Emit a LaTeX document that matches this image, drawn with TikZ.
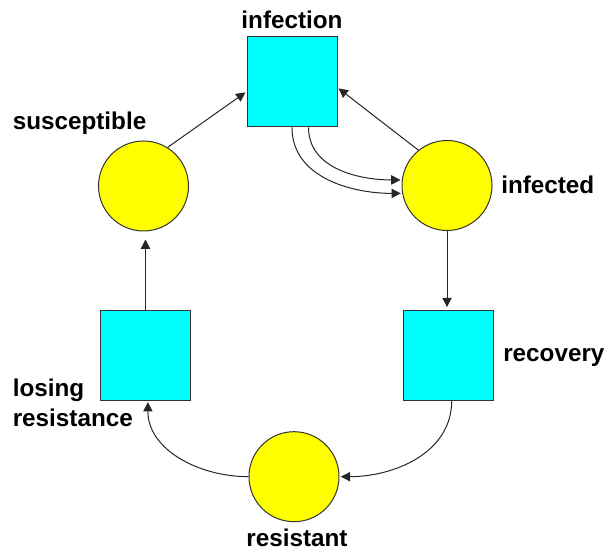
\documentclass[tikz,border=0pt]{standalone}
\usepackage{fontspec}
\setmainfont{Liberation Sans}
\usetikzlibrary{arrows.meta}
\definecolor{rateblue}{RGB}{0,255,255}
\definecolor{stockyellow}{RGB}{255,255,0}
\begin{document}
\begin{tikzpicture}[x=0.75pt,y=0.75pt,
  stock/.style={circle, draw=black!80, fill=stockyellow, line width=0.75pt, minimum size=67.5pt, inner sep=0pt},
  rate/.style={rectangle, draw=black!80, fill=rateblue, line width=0.75pt, minimum size=67.5pt, inner sep=0pt},
  lbl/.style={inner sep=0pt, font=\fontsize{18.2}{22.5}\selectfont\bfseries},
  arr/.style={-{Triangle[length=7pt,width=7pt]}, line width=0.75pt, draw=black!85, shorten >=1pt}]
\useasboundingbox (0,0) rectangle (608,552);
% places and transitions
\node[rate] (infection) at (292,470) {};
\node[stock] (susceptible) at (143.5,366) {};
\node[stock] (infected) at (447,366.5) {};
\node[rate] (recovery) at (448.5,196.7) {};
\node[rate] (losing) at (145.5,196.7) {};
\node[stock] (resistant) at (294,75.3) {};
% labels
\node[lbl, anchor=base] (infection-lbl) at (292,523.7) {infection};
\node[lbl, anchor=base west] (susceptible-lbl) at (12.5,422.7) {susceptible};
\node[lbl, anchor=base west] (infected-lbl) at (501,358.7) {infected};
\node[lbl, anchor=base west] (recovery-lbl) at (503,190.3) {recovery};
\node[lbl, anchor=base west, align=left] (losing-lbl) at (12.5,125.3) {losing\\resistance};
\node[lbl, anchor=base] (resistant-lbl) at (297,5) {resistant};
% arcs
\draw[arr] (susceptible.58) -- (infection.192);
\draw[arr] (infected.129) -- (infection.-7);
\draw[arr] (infection.south) to[out=-90,in=180] (infected.190);
\draw[arr] (infection.-70) to[out=-90,in=180] (infected.173);
\draw[arr, shorten >=2pt] (infected.south) -- (infected.south |- recovery.north);
\draw[arr] (recovery.-86) to[out=-90,in=0] (resistant.east);
\draw[arr] (resistant.west) to[out=180,in=-90] (losing.-87);
\draw[arr, shorten >=6pt] (losing.north) -- (losing.north |- susceptible.south);
\end{tikzpicture}
\end{document}
